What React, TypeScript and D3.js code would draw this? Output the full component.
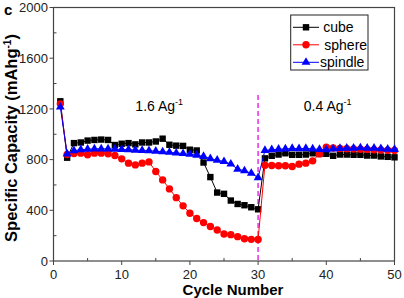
import React, { useEffect, useRef } from "react";
import * as d3 from "d3";

// specific capacity (mAh/g) per cycle, 50 cycles each
const cycles = d3.range(1, 51);
const cube = [1260, 815, 930, 935, 950, 955, 958, 955, 915, 925, 930, 920, 935, 935, 943, 965, 917, 910, 908, 878, 872, 777, 662, 540, 530, 477, 450, 440, 424, 408, 810, 830, 840, 850, 838, 838, 840, 850, 845, 846, 830, 840, 840, 838, 838, 832, 832, 825, 822, 818];
const sphere = [1240, 840, 848, 851, 838, 851, 851, 846, 832, 806, 772, 758, 772, 782, 706, 640, 569, 500, 435, 377, 335, 303, 272, 245, 213, 208, 192, 176, 171, 170, 756, 753, 751, 751, 746, 764, 772, 790, 845, 898, 892, 888, 886, 884, 882, 880, 878, 876, 874, 872];
const spindle = [1215, 845, 870, 878, 882, 885, 885, 885, 882, 880, 878, 875, 872, 870, 866, 862, 858, 852, 848, 842, 835, 825, 808, 795, 785, 765, 725, 712, 692, 658, 872, 878, 882, 884, 888, 886, 888, 885, 880, 878, 885, 888, 890, 890, 893, 890, 890, 886, 882, 880];

const seriesNames = ["cube", "sphere", "spindle"];
const seriesColors = ["#000000", "#ff0000", "#0000ff"];
const xTicks = [0, 10, 20, 30, 40, 50];
const yTicks = [0, 400, 800, 1200, 1600, 2000];
const rateLabels = [
  { cycle: 15.5, text: "1.6 Ag" },
  { cycle: 40.2, text: "0.4 Ag" },
];
const switchCycle = 30;

export default function App() {
  const ref = useRef<SVGSVGElement>(null);

  useEffect(() => {
    const svg = d3.select(ref.current);
    svg.selectAll("*").remove();

    const left = 53.5, right = 394.5, top = 7.5, bottom = 261;
    const x = d3.scaleLinear().domain([0, 50]).range([left, right]);
    const y = d3.scaleLinear().domain([0, 2000]).range([bottom, top]);
    const font = "Liberation Sans, Arial, sans-serif";
    const axisColor = "#444";

    // frame
    svg.append("rect")
      .attr("x", left).attr("y", top)
      .attr("width", right - left).attr("height", bottom - top)
      .attr("fill", "none").attr("stroke", axisColor).attr("stroke-width", 1.2);

    // major ticks point out, minor ticks point in
    const gx = svg.append("g").attr("stroke", axisColor).attr("stroke-width", 1);
    xTicks.forEach((t) => {
      gx.append("line").attr("x1", x(t)).attr("x2", x(t)).attr("y1", bottom).attr("y2", bottom + 4);
    });
    d3.range(5, 50, 10).forEach((t) => {
      gx.append("line").attr("x1", x(t)).attr("x2", x(t)).attr("y1", bottom).attr("y2", bottom - 3);
    });
    yTicks.forEach((t) => {
      gx.append("line").attr("x1", left).attr("x2", left - 4).attr("y1", y(t)).attr("y2", y(t));
    });
    d3.range(200, 2000, 400).forEach((t) => {
      gx.append("line").attr("x1", left).attr("x2", left + 3).attr("y1", y(t)).attr("y2", y(t));
    });

    svg.append("g").selectAll("text").data(xTicks).enter().append("text")
      .attr("x", (d) => x(d)).attr("y", 279)
      .attr("text-anchor", "middle")
      .attr("font-family", font).attr("font-size", 13).attr("fill", "#222")
      .text((d) => d);

    svg.append("g").selectAll("text").data(yTicks).enter().append("text")
      .attr("x", left - 5.5).attr("y", (d) => y(d) + 4.6)
      .attr("text-anchor", "end")
      .attr("font-family", font).attr("font-size", 13).attr("fill", "#222")
      .text((d) => d);

    // axis titles
    svg.append("text")
      .attr("x", 233).attr("y", 294.5)
      .attr("text-anchor", "middle")
      .attr("font-family", font).attr("font-size", 15).attr("font-weight", "bold")
      .text("Cycle Number");

    const yt = svg.append("text")
      .attr("transform", "translate(17,138) rotate(-90)")
      .attr("text-anchor", "middle")
      .attr("font-family", font).attr("font-size", 16.5).attr("font-weight", "bold");
    yt.append("tspan").text("Specific Capacity (mAhg");
    yt.append("tspan").attr("dy", -6).attr("font-size", 10).text("-1");
    yt.append("tspan").attr("dy", 6).text(")");

    svg.append("text")
      .attr("x", 4).attr("y", 15)
      .attr("font-family", font).attr("font-size", 15).attr("font-weight", "bold")
      .text("c");

    // current density switch
    svg.append("line")
      .attr("x1", x(switchCycle)).attr("x2", x(switchCycle))
      .attr("y1", 95).attr("y2", bottom)
      .attr("stroke", "#e83ce8").attr("stroke-width", 1.6)
      .attr("stroke-dasharray", "5,3");

    rateLabels.forEach((r) => {
      const t = svg.append("text")
        .attr("x", x(r.cycle)).attr("y", 111)
        .attr("text-anchor", "middle")
        .attr("font-family", font).attr("font-size", 14);
      t.append("tspan").text(r.text);
      t.append("tspan").attr("dy", -6).attr("font-size", 9).text("-1");
    });

    const allSeries = [cube, sphere, spindle];
    const line = d3.line<number>().x((_, i) => x(cycles[i])).y((d) => y(d));

    const drawMarker = (g: any, k: number, cx: number, cy: number) => {
      const color = seriesColors[k];
      if (k === 0) {
        g.append("rect").attr("x", cx - 3.2).attr("y", cy - 3.2)
          .attr("width", 6.4).attr("height", 6.4).attr("fill", color);
      } else if (k === 1) {
        g.append("circle").attr("cx", cx).attr("cy", cy).attr("r", 3.7).attr("fill", color);
      } else {
        const s = d3.symbol().type(d3.symbolTriangle).size(34);
        g.append("path").attr("d", s()).attr("transform", `translate(${cx},${cy})`).attr("fill", color);
      }
    };

    allSeries.forEach((vals, k) => {
      const g = svg.append("g");
      g.append("path")
        .attr("d", line(vals))
        .attr("fill", "none")
        .attr("stroke", seriesColors[k])
        .attr("stroke-width", 1);
      vals.forEach((v, i) => drawMarker(g, k, x(cycles[i]), y(v)));
    });

    // legend
    const lg = svg.append("g");
    lg.append("rect")
      .attr("x", 290.7).attr("y", 15)
      .attr("width", 77.3).attr("height", 55)
      .attr("fill", "white").attr("stroke", "#222").attr("stroke-width", 1);
    const textX = [323.3, 324.3, 320];
    seriesNames.forEach((name, k) => {
      const ly = 27.3 + k * 17.5;
      lg.append("line")
        .attr("x1", 293).attr("x2", 319).attr("y1", ly).attr("y2", ly)
        .attr("stroke", seriesColors[k]).attr("stroke-width", 1);
      drawMarker(lg, k, 306, ly);
      lg.append("text")
        .attr("x", textX[k]).attr("y", ly + 5)
        .attr("font-family", font).attr("font-size", 14)
        .text(name);
    });
  }, []);

  return (
    <svg
      ref={ref}
      width={404}
      height={298}
      style={{ position: "fixed", left: 0, top: 0, background: "white" }}
    />
  );
}
